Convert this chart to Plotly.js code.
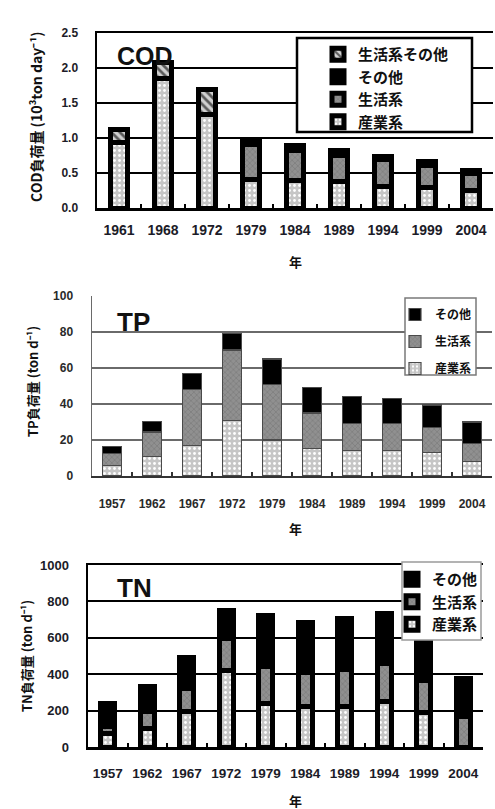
<!DOCTYPE html>
<html>
<head>
<meta charset="utf-8">
<script src="https://cdn.plot.ly/plotly-3.0.1.min.js"></script>
<style>
  html, body { margin: 0; padding: 0; background: #ffffff; }
  #chart { width: 495px; height: 809px; }
</style>
</head>
<body>
<div id="chart"></div>
<script>
// ---- COD load (10^3 ton/day) ----
const codYears = ['1961', '1968', '1972', '1979', '1984', '1989', '1994', '1999', '2004'];
const codIndustry = [0.93, 1.85, 1.33, 0.41, 0.39, 0.38, 0.31, 0.30, 0.25];
const codDomestic = [null, null, null, 0.50, 0.43, 0.37, 0.38, 0.31, 0.24];
const codOther = [null, null, null, 0.05, 0.07, 0.07, 0.05, 0.05, 0.04];
const codDomesticOther = [0.19, 0.23, 0.37, null, null, null, null, null, null];

// ---- TP load (ton/day) ----
const tpYears = ['1957', '1962', '1967', '1972', '1979', '1984', '1989', '1994', '1999', '2004'];
const tpIndustry = [6, 11, 17, 31, 20, 15.5, 14, 14, 13, 8];
const tpDomestic = [6.5, 13.5, 31, 39, 31, 19.5, 15, 15, 14, 10];
const tpOther = [4, 6, 9, 9, 14, 14, 15, 14, 12.5, 12];

// ---- TN load (ton/day) ----
const tnYears = ['1957', '1962', '1967', '1972', '1979', '1984', '1989', '1994', '1999', '2004'];
const tnIndustry = [75, 100, 195, 420, 240, 225, 225, 250, 190, null];
const tnDomestic = [40, 95, 125, 175, 200, 185, 200, 210, 175, 170];
const tnOther = [125, 140, 170, 155, 280, 275, 280, 275, 225, 205];

const nameIndustry = '産業系';
const nameDomestic = '生活系';
const nameOther = 'その他';
const nameDomesticOther = '生活系その他';

const codTitle = 'COD負荷量 (10³ton day⁻¹)';
const tpTitle = 'TP負荷量 (ton d⁻¹)';
const tnTitle = 'TN負荷量 (ton d⁻¹)';
const xTitle = '年';

// pixel -> paper helpers
const W = 495, H = 809;
const px = x => x / W;
const py = y => 1 - y / H;

const NUM_FONT = 'Liberation Sans, Arial, sans-serif';
const JP_FONT = 'Noto Sans CJK JP, sans-serif';

// fill styles
const fillIndustry = { shape: '.', bgcolor: '#c6c6c6', fgcolor: '#ffffff', size: 5, solidity: 0.25 };
const fillDomestic = { shape: 'x', bgcolor: '#909090', fgcolor: '#7a7a7a', size: 4, solidity: 0.3 };
const fillOther = null;
const fillDomOther = { shape: '\\', bgcolor: '#d0d0d0', fgcolor: '#5a5a5a', size: 6, solidity: 0.45 };

function bar(name, x, y, axes, legend, pattern, line, width, rank) {
  const marker = { color: pattern ? pattern.bgcolor : '#000000', line: line };
  if (pattern) marker.pattern = Object.assign({ fillmode: 'replace' }, pattern);
  const t = {
    type: 'bar', name: name, x: x, y: y,
    xaxis: axes[0], yaxis: axes[1], legend: legend,
    marker: marker, width: width, hoverinfo: 'skip'
  };
  if (rank) { t.legendrank = rank; t.legendgroup = legend + rank; }
  return t;
}

const codLine = { color: '#000000', width: 5 };
const tpLine = { color: '#4a4a4a', width: 1.2 };
const tnLine = { color: '#000000', width: 5 };

const data = [
  bar(nameIndustry, codYears, codIndustry, ['x', 'y'], 'legend', fillIndustry, codLine, 0.39),
  bar(nameDomestic, codYears, codDomestic, ['x', 'y'], 'legend', fillDomestic, codLine, 0.39),
  bar(nameOther, codYears, codOther, ['x', 'y'], 'legend', fillOther, codLine, 0.39),
  bar(nameDomesticOther, codYears, codDomesticOther, ['x', 'y'], 'legend', fillDomOther, codLine, 0.39),

  bar(nameIndustry, tpYears, tpIndustry, ['x2', 'y2'], 'legend2', fillIndustry, tpLine, 0.47, 3),
  bar(nameDomestic, tpYears, tpDomestic, ['x2', 'y2'], 'legend2', fillDomestic, tpLine, 0.47, 2),
  bar(nameOther, tpYears, tpOther, ['x2', 'y2'], 'legend2', fillOther, tpLine, 0.47, 1),

  bar(nameIndustry, tnYears, tnIndustry, ['x3', 'y3'], 'legend3', fillIndustry, tnLine, 0.36),
  bar(nameDomestic, tnYears, tnDomestic, ['x3', 'y3'], 'legend3', fillDomestic, tnLine, 0.36),
  bar(nameOther, tnYears, tnOther, ['x3', 'y3'], 'legend3', fillOther, tnLine, 0.36)
];

function xAxis(domain, anchor, fontSize, color, lineColor, lineWidth, mirror, standoff) {
  return {
    domain: domain, anchor: anchor, type: 'category',
    showgrid: false, showline: true, linecolor: lineColor, linewidth: lineWidth, mirror: mirror,
    ticks: 'inside', tickson: 'boundaries', ticklen: 4, tickwidth: 2, tickcolor: lineColor,
    tickangle: 0,
    tickfont: { family: NUM_FONT, size: fontSize, color: color, weight: 'bold' },
    ticklabelstandoff: standoff, fixedrange: true
  };
}
function yAxis(domain, anchor, range, dtick, fmt, fontSize, color, gridColor, gridWidth, lineColor, lineWidth, standoff) {
  return {
    domain: domain, anchor: anchor, range: range, dtick: dtick, tickformat: fmt,
    showgrid: true, gridcolor: gridColor, gridwidth: gridWidth,
    showline: true, linecolor: lineColor, linewidth: lineWidth,
    ticks: '', zeroline: false,
    tickfont: { family: NUM_FONT, size: fontSize, color: color, weight: 'bold' },
    ticklabelstandoff: standoff, fixedrange: true
  };
}

function legendAt(x, y, size, order, gap) {
  return {
    x: px(x), y: py(y), xanchor: 'left', yanchor: 'top',
    bgcolor: 'rgba(0,0,0,0)', borderwidth: 0,
    traceorder: order, tracegroupgap: gap || 0,
    font: { family: JP_FONT, size: size, color: '#111111', weight: 'bold' }
  };
}

function txt(text, x, y, size, opts) {
  return Object.assign({
    text: text, xref: 'paper', yref: 'paper', x: px(x), y: py(y),
    showarrow: false, xanchor: 'center', yanchor: 'middle',
    font: { family: JP_FONT, size: size, color: '#111111', weight: 'bold' }
  }, opts || {});
}

function box(x0, y0, x1, y1, color, width) {
  return {
    type: 'rect', xref: 'paper', yref: 'paper', layer: 'above',
    x0: px(x0), x1: px(x1), y0: py(y0), y1: py(y1),
    line: { color: color, width: width }, fillcolor: '#ffffff'
  };
}

const layout = {
  width: W, height: H,
  margin: { l: 0, r: 0, t: 0, b: 0 },
  paper_bgcolor: '#ffffff', plot_bgcolor: '#ffffff',
  barmode: 'stack', showlegend: true,

  xaxis: xAxis([px(97), px(493)], 'y', 14, '#1c1c28', '#000000', 2.5, true, 8),
  yaxis: yAxis([py(208), py(33)], 'x', [0, 2.5], 0.5, '.1f', 12, '#1c1c28', '#000000', 1.5, '#000000', 2.5, 14),

  xaxis2: xAxis([px(92), px(492)], 'y2', 12, '#2a2a2a', '#333333', 2, false, 16),
  yaxis2: yAxis([py(476), py(296)], 'x2', [0, 100], 20, 'd', 12, '#2a2a2a', '#6a6a6a', 1.5, '#6a6a6a', 1.5, 15),

  xaxis3: xAxis([px(88), px(483)], 'y3', 13.5, '#1c1c28', '#000000', 2.5, true, 12),
  yaxis3: yAxis([py(747), py(565)], 'x3', [0, 1000], 200, 'd', 13, '#1c1c28', '#000000', 2, '#000000', 2.5, 14),

  legend: legendAt(318, 38, 15, 'reversed'),
  legend2: legendAt(395, 300, 12, 'grouped', 8),
  legend3: legendAt(392, 563, 15, 'reversed'),

  shapes: [
    box(297, 38, 472, 132, '#000000', 2.5),
    box(405, 298, 476, 375, '#7a7a7a', 1.5),
    box(402, 562, 481, 640, '#9a9a9a', 1.5)
  ],

  annotations: [
    txt('COD', 115, 56, 25, { xanchor: 'left', font: { family: NUM_FONT, size: 25, color: '#111111', weight: 'bold' } }),
    txt('TP', 115, 322, 26, { xanchor: 'left', font: { family: NUM_FONT, size: 26, color: '#111111', weight: 'bold' } }),
    txt('TN', 115, 588, 26, { xanchor: 'left', font: { family: NUM_FONT, size: 26, color: '#111111', weight: 'bold' } }),
    txt(codTitle, 36, 117, 14, { textangle: -90 }),
    txt(tpTitle, 33, 382, 13, { textangle: -90 }),
    txt(tnTitle, 26, 656, 13, { textangle: -90 }),
    txt(xTitle, 295, 262, 13),
    txt(xTitle, 295, 528, 13),
    txt(xTitle, 295, 800, 13)
  ]
};

Plotly.newPlot('chart', data, layout, { staticPlot: true, displayModeBar: false });
</script>
</body>
</html>
